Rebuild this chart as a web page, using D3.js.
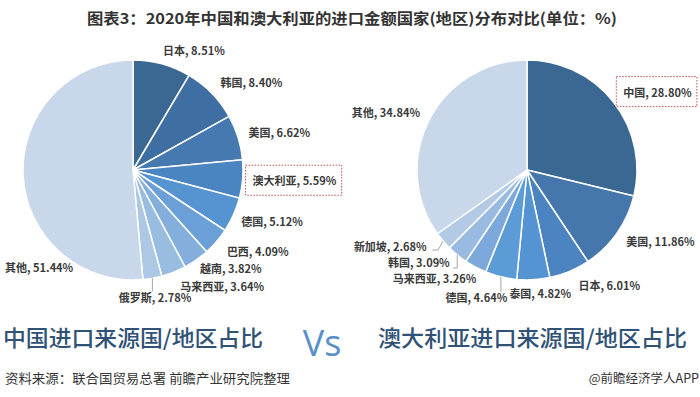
<!DOCTYPE html>
<html>
<head>
<meta charset="utf-8">
<script src="https://cdn.jsdelivr.net/npm/d3@7"></script>
<style>
  body { margin: 0; background: #fff; }
  svg { display: block; font-family: "Noto Sans CJK SC", "Noto Sans", sans-serif; }
</style>
</head>
<body>
<div id="chart-area"></div>
<script>
const WIDTH = 700
const HEIGHT = 397
const RADIUS = 110

// China import sources
const cnNames = ["日本", "韩国", "美国", "澳大利亚", "德国", "巴西", "越南", "马来西亚", "俄罗斯", "其他"]
const cnValues = [8.51, 8.40, 6.62, 5.59, 5.12, 4.09, 3.82, 3.64, 2.78, 51.44]
const cnColors = ["#3b6793", "#3f6fa2", "#4579b0", "#4a84c1", "#5594d1", "#6aa0d7", "#84afdc", "#99bce1", "#adc8e5", "#c9d7ea"]

// Australia import sources
const auNames = ["中国", "美国", "日本", "泰国", "德国", "马来西亚", "韩国", "新加坡", "其他"]
const auValues = [28.80, 11.86, 6.01, 4.82, 4.64, 3.26, 3.09, 2.68, 34.84]
const auColors = ["#3b6793", "#4577ad", "#4b84c0", "#5494d2", "#5c9cd6", "#7ca8db", "#99bbe1", "#b2cae6", "#c9d7ea"]

const svg = d3.select("#chart-area").append("svg")
  .attr("width", WIDTH)
  .attr("height", HEIGHT)

// Title
svg.append("text")
  .attr("x", 352)
  .attr("y", 24)
  .attr("text-anchor", "middle")
  .attr("font-size", "15px")
  .attr("font-weight", "bold")
  .attr("fill", "#333")
  .attr("textLength", 530)
  .attr("lengthAdjust", "spacingAndGlyphs")
  .text("图表3：2020年中国和澳大利亚的进口金额国家(地区)分布对比(单位：%)")

const pie = d3.pie().sort(null).value(d => d.value)
const arc = d3.arc().innerRadius(0).outerRadius(RADIUS)

// label nudges per slice [dx, dy, anchor]
const cnNudge = [[-3, 2, "start"], [-2, 0, "start"], [-4, 0, "start"], [-5, 1, "start"], [-6, 1, "start"],
  [-1, 1, "start"], [-5, -3, "start"], [1, 1, "start"], [0, 5, "middle"], [0, 0, "start"]]
const auNudge = [[-2, 0, "start"], [-3, 0, "start"], [3, 1, "start"], [6, -1, "middle"], [-21, 7, "middle"],
  [8, -1, "end"], [2, -3, "end"], [-5, -4, "end"], [5, 0, "end"]]

function drawPie(cx, names, values, colors, nudge, boxIdx, leaders, otherPos) {
  const data = names.map((n, i) => ({ name: n, value: values[i], color: colors[i], nudge: nudge[i] }))
  const arcs = pie(data)
  const g = svg.append("g").attr("transform", `translate(${cx}, 170)`)

  g.selectAll("path")
    .data(arcs)
    .enter().append("path")
      .attr("d", arc)
      .attr("fill", d => d.data.color)
      .attr("stroke", "#fff")
      .attr("stroke-width", 1.5)

  const labR = RADIUS + 15
  arcs.forEach((d, i) => {
    const a = (d.startAngle + d.endAngle) / 2
    let x = labR * Math.sin(a) + d.data.nudge[0]
    let y = -labR * Math.cos(a) + d.data.nudge[1]
    if (d.data.name === "其他") { x = otherPos[0]; y = otherPos[1] }
    const t = g.append("text")
      .attr("x", x)
      .attr("y", y)
      .attr("dy", "0.35em")
      .attr("text-anchor", d.data.nudge[2])
      .attr("font-size", "11px")
      .attr("font-weight", "bold")
      .attr("fill", "#3a3a3a")
      .text(`${d.data.name}, ${d.data.value.toFixed(2)}%`)
    if (i === boxIdx) {
      const bb = t.node().getBBox()
      g.append("rect")
        .attr("x", bb.x - 7)
        .attr("y", bb.y - 7)
        .attr("width", bb.width + 12)
        .attr("height", bb.height + 14)
        .attr("fill", "none")
        .attr("stroke", "#c0504d")
        .attr("stroke-width", 1)
        .attr("stroke-dasharray", "1.5,1.5")
    }
  })

  // leader lines for small slices
  leaders.forEach(l => {
    const d = arcs[l.idx]
    const a = (d.startAngle + d.endAngle) / 2
    const x0 = RADIUS * Math.sin(a), y0 = -RADIUS * Math.cos(a)
    g.append("path")
      .attr("d", d3.line()([[x0, y0]].concat(l.pts.map(p => [x0 + p[0], y0 + p[1]]))))
      .attr("fill", "none")
      .attr("stroke", "#a6a6a6")
      .attr("stroke-width", 1)
  })
}

drawPie(133, cnNames, cnValues, cnColors, cnNudge, 3,
  [{ idx: 8, pts: [[0, 13]] }], [-128, 98])

drawPie(527, auNames, auValues, auColors, auNudge, 0,
  [{ idx: 4, pts: [[0, 15]] }, { idx: 6, pts: [[0, 13], [-4, 13]] }, { idx: 7, pts: [[-5, 9], [-11, 9]] }],
  [-107, -57])

// bottom subtitles
svg.append("text")
  .attr("x", 3)
  .attr("y", 346)
  .attr("font-size", "22px")
  .attr("font-weight", 500)
  .attr("fill", "#2f5276")
  .attr("textLength", 260)
  .attr("lengthAdjust", "spacingAndGlyphs")
  .text("中国进口来源国/地区占比")

svg.append("text")
  .attr("x", 378)
  .attr("y", 346)
  .attr("font-size", "22px")
  .attr("font-weight", 500)
  .attr("fill", "#2f5276")
  .attr("textLength", 309)
  .attr("lengthAdjust", "spacingAndGlyphs")
  .text("澳大利亚进口来源国/地区占比")

svg.append("text")
  .attr("x", 322)
  .attr("y", 356)
  .attr("text-anchor", "middle")
  .attr("font-family", "'Open Sans', sans-serif")
  .attr("font-size", "36px")
  .attr("fill", "#5a8fca")
  .text("Vs")

// source + brand
svg.append("text")
  .attr("x", 5)
  .attr("y", 383)
  .attr("font-size", "13px")
  .attr("fill", "#333")
  .attr("textLength", 285)
  .attr("lengthAdjust", "spacingAndGlyphs")
  .text("资料来源：联合国贸易总署 前瞻产业研究院整理")

svg.append("text")
  .attr("x", 699)
  .attr("y", 383)
  .attr("text-anchor", "end")
  .attr("font-size", "12.5px")
  .attr("fill", "#333")
  .text("@前瞻经济学人APP")
</script>
</body>
</html>
